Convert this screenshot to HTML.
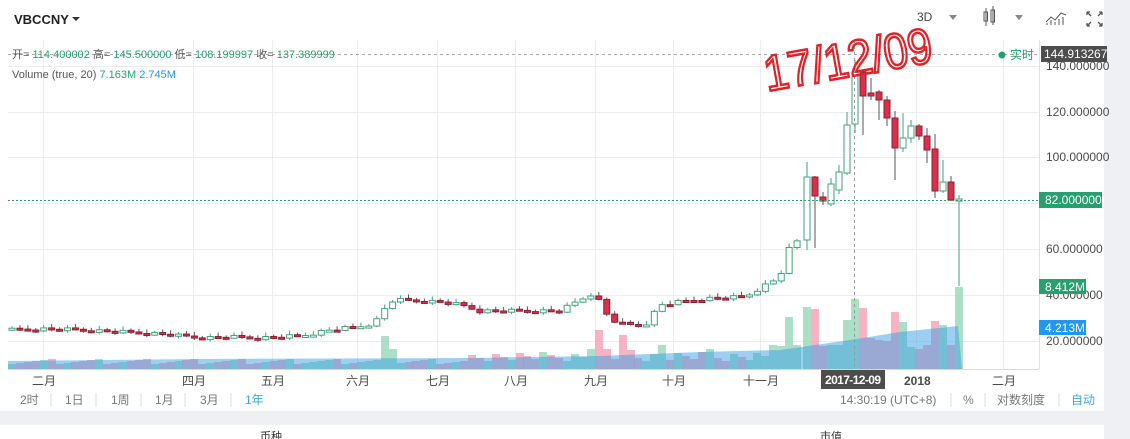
<!DOCTYPE html>
<html><head><meta charset="utf-8">
<style>
html,body{margin:0;padding:0;background:#fff;}
body{width:1130px;height:439px;overflow:hidden;position:relative;font-family:"Liberation Sans","Noto Sans CJK SC",sans-serif;}
svg{position:absolute;left:0;top:0;}
</style></head><body>
<svg id="s" width="1130" height="439" xmlns="http://www.w3.org/2000/svg" font-family="Liberation Sans, Noto Sans CJK SC, sans-serif">
<rect x="1104" y="0" width="26" height="439" fill="#eef0f3"/>
<rect x="0" y="411" width="1130" height="28" fill="#eef0f3"/>
<rect x="0" y="425" width="1104" height="14" fill="#fff"/>
<g id="grid" stroke="#ececec" stroke-width="1"></g>
<g id="vol"></g>
<g id="cand"></g>
<line x1="1039.5" y1="40" x2="1039.5" y2="369" stroke="#e0e0e0"/>
<line x1="8" y1="369.5" x2="1039" y2="369.5" stroke="#d8d8d8"/>
<line x1="854.5" y1="40" x2="854.5" y2="369" stroke="#999" stroke-dasharray="3,3"/>
<line x1="8" y1="54.5" x2="1039" y2="54.5" stroke="#aaa" stroke-dasharray="3,3"/>
<line x1="8" y1="200.5" x2="1039" y2="200.5" stroke="#26a06e" stroke-dasharray="2,2"/>
<g font-size="12" fill="#4a4a4a">
<text x="1046" y="70">140.000000</text>
<text x="1046" y="116">120.000000</text>
<text x="1046" y="161">100.000000</text>
<text x="1046" y="253">60.000000</text>
<text x="1046" y="299">40.000000</text>
<text x="1046" y="345">20.000000</text>
</g>
<rect x="1041" y="46" width="66" height="16" fill="#4d4d4d"/>
<text x="1044" y="58" font-size="12" fill="#fff">144.913267</text>
<circle cx="1002" cy="55" r="3.5" fill="#26a06e"/>
<text x="1010" y="59" font-size="12" fill="#26a06e">实时</text>
<rect x="1039" y="192" width="63" height="16" fill="#26a06e"/>
<text x="1045" y="204" font-size="12" fill="#fff">82.000000</text>
<rect x="1039" y="279" width="47" height="15" fill="#26a06e"/>
<text x="1045" y="291" font-size="12" fill="#fff">8.412M</text>
<rect x="1039" y="320" width="47" height="15" fill="#2196f3"/>
<text x="1045" y="332" font-size="12" fill="#fff">4.213M</text>
<g font-size="12" fill="#4a4a4a">
<text x="32" y="385">二月</text><text x="182" y="385">四月</text><text x="261" y="385">五月</text>
<text x="346" y="385">六月</text><text x="426" y="385">七月</text><text x="504" y="385">八月</text>
<text x="584" y="385">九月</text><text x="662" y="385">十月</text><text x="743" y="385">十一月</text>
<text x="904" y="385" font-weight="bold">2018</text><text x="992" y="385">二月</text>
</g>
<rect x="821" y="370" width="64" height="19" fill="#4d4d4d"/>
<text x="825" y="384" font-size="12" fill="#fff" font-weight="bold" textLength="56">2017-12-09</text>
<g font-size="12" fill="#777">
<text x="20" y="404">2时</text><text x="65" y="404">1日</text><text x="111" y="404">1周</text>
<text x="155" y="404">1月</text><text x="200" y="404">3月</text><text x="245" y="404" fill="#3ea8d8">1年</text>
<text x="840" y="404">14:30:19 (UTC+8)</text><text x="963" y="404">%</text><text x="997" y="404">对数刻度</text>
<text x="1071" y="404" fill="#3ea8d8">自动</text>
</g>
<g stroke="#ddd"><line x1="51" y1="393" x2="51" y2="407"/><line x1="96" y1="393" x2="96" y2="407"/><line x1="141" y1="393" x2="141" y2="407"/><line x1="185" y1="393" x2="185" y2="407"/><line x1="231" y1="393" x2="231" y2="407"/>
<line x1="951" y1="393" x2="951" y2="407"/><line x1="985" y1="393" x2="985" y2="407"/><line x1="1059" y1="393" x2="1059" y2="407"/></g>
<text x="14" y="24" font-size="13" fill="#222" font-weight="bold">VBCCNY</text>
<path d="M72 17 l8 0 l-4 4z" fill="#333"/>
<text x="12" y="58" font-size="11" fill="#555">开=<tspan fill="#26a06e"> 114.400002 </tspan>高=<tspan fill="#26a06e"> 145.500000 </tspan>低=<tspan fill="#26a06e"> 108.199997 </tspan>收=<tspan fill="#26a06e"> 137.389999</tspan></text>
<text x="12" y="78" font-size="11" fill="#555">Volume (true, 20)  <tspan fill="#26a06e">7.163M</tspan> <tspan fill="#2196f3">2.745M</tspan></text>
<text x="917" y="21" font-size="12" fill="#444">3D</text>
<path d="M949 15 l8 0 l-4 5z" fill="#888"/>
<path d="M1015 15 l8 0 l-4 5z" fill="#888"/>
<g stroke="#555" fill="none"><rect x="984" y="12" width="3.5" height="9"/><rect x="991" y="10" width="3.5" height="12"/><line x1="986" y1="8" x2="986" y2="26"/><line x1="993" y1="6" x2="993" y2="25"/></g>
<g stroke="#555" fill="none"><path d="M1046 22 l5-5 4 3 6-7 5 2"/><path d="M1047 25v-2M1051 25v-5M1055 25v-3M1059 25v-6M1063 25v-8"/></g>
<g stroke="#555" fill="none" stroke-width="1.3"><path d="M1087 12l4 4M1087 12h3M1087 12v3M1102 12l-4 4M1102 12h-3M1102 12v3M1087 26l4-4M1087 26h3M1087 26v-3M1102 26l-4-4M1102 26h-3M1102 26v-3"/></g>
<text x="762" y="78" font-size="50" fill="none" stroke="#e0222a" stroke-width="2.5" transform="rotate(-10 840 55)" font-family="Liberation Sans Narrow, Liberation Sans, sans-serif" textLength="170" lengthAdjust="spacingAndGlyphs">17/12/09</text>
<text x="260" y="440" font-size="11" fill="#333">币种</text><text x="820" y="440" font-size="11" fill="#333">市值</text>
</svg>
<script>
var NS="http://www.w3.org/2000/svg";
function el(p,t,a){var e=document.createElementNS(NS,t);for(var k in a)e.setAttribute(k,a[k]);p.appendChild(e);return e;}
var g=document.getElementById('grid');
[66,112,157,203,249,295,341].forEach(function(y){el(g,'line',{x1:8,x2:1039,y1:y+.5,y2:y+.5});});
[43,193,272,357,437,515,595,673,760,916,1003].forEach(function(x){el(g,'line',{x1:x+.5,x2:x+.5,y1:40,y2:369});});
var A=[[12,330],[40,329],[80,330],[120,332],[160,334],[190,337],[205,338],[225,337],[260,338],[300,336],[330,330],[357,327],[370,324],[380,318],[388,302],[396,300],[420,301],[440,302],[460,305],[480,311],[560,311],[580,300],[595,292],[603,310],[612,320],[625,325],[645,325],[660,305],[680,302],[700,299],[720,298],[745,297],[760,288],[775,280],[783,270],[791,243],[799,241]];
function interp(x){for(var i=0;i<A.length-1;i++){if(x<=A[i+1][0]){var t=(x-A[i][0])/(A[i+1][0]-A[i][0]);return A[i][1]+t*(A[i+1][1]-A[i][1]);}}return A[A.length-1][1];}
var C=[];var prev=330;
for(var i=0;;i++){var x=12+i*7.93;if(x>800)break;var c=interp(x)+((i*37)%7-3)*0.6;C.push([x,prev,c,Math.min(prev,c)-2-(i%3),Math.max(prev,c)+1+(i%2)]);prev=c;}
var T=[[807,240,177,162,250],[815,177,196,176,248],[823,197,201,192,205],[831,204,184,178,206],[839,190,172,165,194],[847,173,125,112,175],[855,124,72,60,133],[863,72,96,70,135],[871,93,96,78,100],[879,92,100,90,120],[887,100,118,96,126],[895,118,148,111,180],[903,148,138,113,152],[911,138,126,120,143],[919,126,136,124,140],[927,136,150,128,163],[935,149,191,134,198],[943,191,182,160,193],[951,182,200,176,201],[959,199,199,195,286]];
T.forEach(function(t){C.push(t);});
var cg=document.getElementById('cand');
C.forEach(function(k){var x=k[0],o=k[1],c=k[2],up=c<=o;var top=Math.min(o,c),h=Math.max(Math.abs(o-c),2);
var col=up?'#3fa27c':'#8a1f33';
el(cg,'line',{x1:x,x2:x,y1:k[3],y2:k[4],stroke:up?'#3fa27c':'#555','stroke-width':1});
el(cg,'rect',{x:x-3,y:top,width:6,height:h,fill:up?'#fff':'#d9304f',stroke:col,'stroke-width':1});});
var vg=document.getElementById('vol');
var VT={807:307,815:309,823:346,831:345,839:345,847:320,855:299,863:308,871:338,879:340,887:341,895:312,903:322,911:347,919:349,927:345,935:321,943:325,951:345,959:287,791:317,775:345,783:346,799:345,385:336,393:349,593:349,601:330,609:349,625:335,633:350,665:345,713:349};
C.forEach(function(k,i){var x=Math.round(k[0]);var up=k[2]<=k[1];var top=null;
for(var key in VT){if(Math.abs(key-x)<=3)top=VT[key];}
if(top===null)top=369-(x<470?5+(i*13)%6:8+(i*17)%10);
el(vg,'rect',{x:x-4,y:top,width:8,height:369-top,fill:up?'rgba(150,215,185,0.8)':'rgba(245,160,180,0.8)'});});
el(vg,'path',{d:'M8 369 L8 361 L200 359 L470 358 L600 356 L700 352 L780 350 L850 340 L900 332 L958 326 L962 369 Z',fill:'rgba(60,160,230,0.5)'});
</script>
</body></html>
